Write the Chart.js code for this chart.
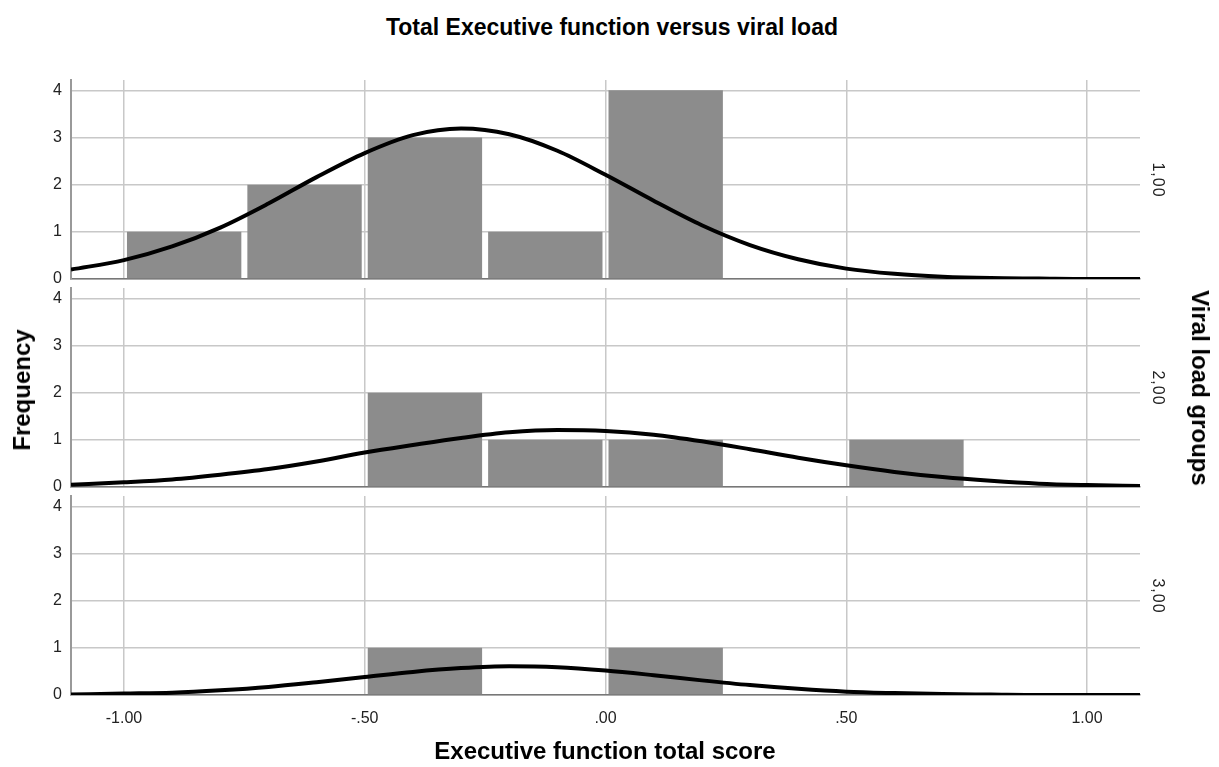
<!DOCTYPE HTML>
<html>
  <head>
    <meta charset="UTF-8"/>
    <title>Total Executive function versus viral load</title>
    <script src="https://cdn.jsdelivr.net/npm/chart.js@4/dist/chart.umd.min.js"></script>
    <style>
     body { margin: 0; background: #fff; font-family: Arial, "Liberation Sans", sans-serif; }
     #page { position: relative; width: 1219px; height: 767px; overflow: hidden; }
     canvas.panel { position: absolute; left: 0; }
     .lbl { position: absolute; white-space: nowrap; color: #000; line-height: 1; }
     .big { font-weight: bold; font-size: 24px; }
     .ttl { font-weight: bold; font-size: 23px; }
     .grp { font-size: 16px; color: #222; letter-spacing: 1px; }
     .ctr { transform: translate(-50%, -50%); }
     .rot-l { transform: translate(-50%, -50%) rotate(-90deg); }
     .rot-r { transform: translate(-50%, -50%) rotate(90deg); }
    </style>
  </head>
  <body>
    <div id="page">
      <div class="lbl ttl ctr" style="left:612px; top:27px;">Total Executive function versus viral load</div>
      <canvas class="panel" id="panel-1" width="1219" height="207" style="top:76px"></canvas>
      <canvas class="panel" id="panel-2" width="1219" height="207" style="top:284px"></canvas>
      <canvas class="panel" id="panel-3" width="1219" height="248" style="top:492px"></canvas>
      <div class="lbl big rot-l" style="left:22px; top:390px;">Frequency</div>
      <div class="lbl big rot-r" style="left:1200px; top:388px;">Viral load groups</div>
      <div class="lbl grp rot-r" style="left:1158px; top:180px;">1,00</div>
      <div class="lbl grp rot-r" style="left:1158px; top:388px;">2,00</div>
      <div class="lbl grp rot-r" style="left:1158px; top:596px;">3,00</div>
      <div class="lbl big ctr" style="left:605px; top:751px;">Executive function total score</div>
    </div>

    <script>
     // histogram bins (centres of the 0.25 wide bins)
     var binCenters = [-0.875, -0.625, -0.375, -0.125, 0.125, 0.375, 0.625, 0.875];
     var counts1 = [1, 2, 3, 1, 4, 0, 0, 0];
     var counts2 = [0, 0, 2, 1, 1, 0, 1, 0];
     var counts3 = [0, 0, 1, 0, 1, 0, 0, 0];

     // normal curves
     var curveX = [-1.11, -1.0, -0.9, -0.8, -0.7, -0.6, -0.5, -0.4, -0.3, -0.2, -0.1, 0.0,
                   0.1, 0.2, 0.3, 0.4, 0.5, 0.6, 0.7, 0.8, 0.9, 1.0, 1.11];
     var curve1 = [0.20, 0.40, 0.69, 1.09, 1.60, 2.16, 2.67, 3.05, 3.19, 3.07, 2.72, 2.21,
                   1.66, 1.14, 0.72, 0.42, 0.22, 0.11, 0.05, 0.02, 0.01, 0.00, 0.00];
     var curve2 = [0.05, 0.10, 0.16, 0.26, 0.38, 0.54, 0.73, 0.89, 1.04, 1.16, 1.21, 1.19,
                   1.11, 0.97, 0.80, 0.62, 0.46, 0.32, 0.21, 0.13, 0.07, 0.04, 0.02];
     var curve3 = [0.01, 0.03, 0.05, 0.10, 0.17, 0.27, 0.38, 0.49, 0.57, 0.61, 0.59, 0.52,
                   0.42, 0.31, 0.21, 0.13, 0.07, 0.04, 0.02, 0.01, 0.00, 0.00, 0.00];

     var xTicks = [-1.0, -0.5, 0.0, 0.5, 1.0];
     var yTicks = [0, 1, 2, 3, 4];

     Chart.defaults.font.family = 'Arial, "Liberation Sans", sans-serif';

     function fmtX(v){
         var s = Number(v).toFixed(2);
         return s.replace(/^(-?)0\./, "$1.");
     }

     function makePanel(id, counts, curve, showX){
         new Chart(document.getElementById(id), {
             type: "bar",
             data: {
                 datasets: [{
                     type: "line",
                     data: curveX.map((x, i) => ({x: x, y: curve[i]})),
                     borderColor: "#000",
                     borderWidth: 4,
                     pointRadius: 0,
                     fill: false,
                     cubicInterpolationMode: "monotone",
                     order: 0
                 }, {
                     type: "bar",
                     data: binCenters.map((x, i) => ({x: x, y: counts[i]})),
                     backgroundColor: "#8c8c8c",
                     borderWidth: 0,
                     barPercentage: 0.95,
                     categoryPercentage: 1,
                     grouped: false,
                     order: 1
                 }]
             },
             options: {
                 responsive: false,
                 animation: false,
                 events: [],
                 layout: { padding: { left: 40, right: 79, top: 4, bottom: showX ? 0 : 4 } },
                 plugins: { legend: { display: false }, tooltip: { enabled: false } },
                 scales: {
                     x: {
                         type: "linear",
                         min: -1.11,
                         max: 1.11,
                         offset: false,
                         afterBuildTicks: s => { s.ticks = xTicks.map(v => ({value: v})); },
                         afterFit: s => {
                             s.height = showX ? 45 : 0;
                             s.paddingLeft = 0; s.paddingRight = 0;
                         },
                         ticks: {
                             display: showX,
                             callback: v => fmtX(v),
                             font: { size: 16 },
                             color: "#222",
                             padding: 14,
                             maxRotation: 0
                         },
                         grid: { color: "#c8c8c8", lineWidth: 1.5, drawTicks: false, offset: false },
                         border: { color: "#777", width: 1.5 }
                     },
                     y: {
                         min: 0,
                         max: 4.22,
                         afterBuildTicks: s => { s.ticks = yTicks.map(v => ({value: v})); },
                         afterFit: s => {
                             s.width = 31;
                             s.paddingTop = 0; s.paddingBottom = 0;
                         },
                         ticks: {
                             font: { size: 16 },
                             color: "#222",
                             padding: 9
                         },
                         grid: { color: "#c8c8c8", lineWidth: 1.5, drawTicks: false },
                         border: { color: "#999", width: 2 }
                     }
                 }
             }
         });
     }

     makePanel("panel-1", counts1, curve1, false);
     makePanel("panel-2", counts2, curve2, false);
     makePanel("panel-3", counts3, curve3, true);
    </script>
  </body>
</html>
